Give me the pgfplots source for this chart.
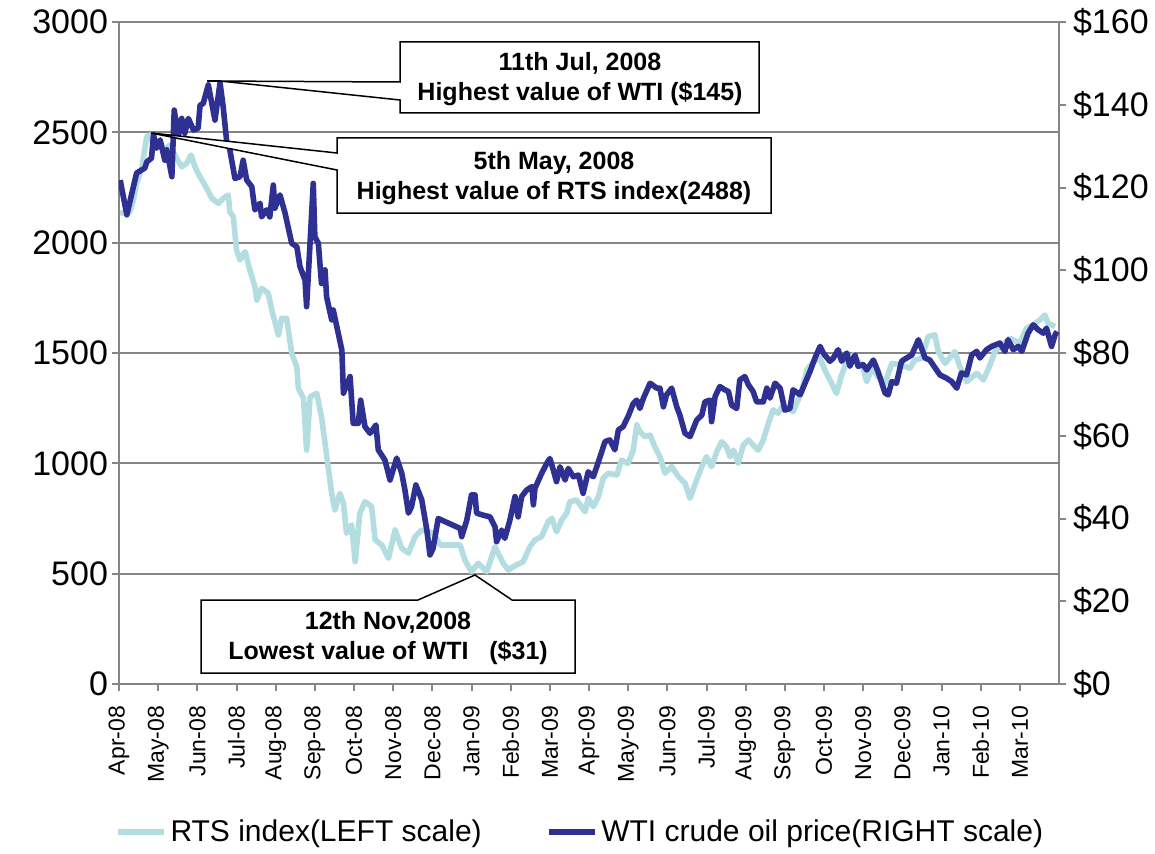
\documentclass[border=0pt]{standalone}
\usepackage{fontspec}
\setmainfont{Liberation Sans}
\usepackage{pgfplots}
\usepackage{pgfplotstable}
\pgfplotsset{compat=1.18}

\definecolor{rtscol}{RGB}{180,221,225}
\definecolor{wticol}{RGB}{46,49,146}
\definecolor{gridcol}{RGB}{134,134,134}

% x = months since 1 Apr 2008
\pgfplotstableread{
m v
0.03 2133
0.28 2140
0.37 2194
0.45 2269
0.58 2337
0.71 2480
0.79 2488
0.92 2428
1.05 2450
1.17 2420
1.30 2443
1.47 2382
1.60 2344
1.73 2360
1.84 2397
1.94 2344
2.02 2314
2.24 2246
2.37 2201
2.54 2178
2.66 2201
2.79 2216
2.83 2140
2.92 2117
3.00 1967
3.09 1922
3.22 1959
3.34 1876
3.47 1801
3.52 1740
3.64 1793
3.81 1771
3.90 1695
4.07 1582
4.15 1657
4.28 1657
4.41 1499
4.54 1438
4.58 1340
4.71 1295
4.79 1060
4.88 1302
5.05 1317
5.17 1211
5.43 864
5.51 789
5.64 864
5.73 819
5.81 683
5.94 721
6.03 554
6.15 774
6.28 826
6.45 804
6.54 653
6.71 630
6.88 570
7.05 698
7.22 615
7.39 593
7.56 668
7.73 698
8.02 683
8.20 630
8.71 630
8.83 562
9.00 509
9.17 547
9.39 509
9.60 622
9.81 547
9.94 517
10.07 532
10.32 554
10.49 622
10.62 653
10.79 668
10.96 736
11.05 751
11.17 690
11.30 743
11.43 774
11.51 826
11.68 834
11.90 781
11.98 842
12.11 804
12.24 849
12.36 932
12.49 955
12.71 947
12.83 1015
13.00 1000
13.13 1060
13.22 1174
13.30 1143
13.43 1121
13.56 1128
13.68 1075
13.81 1030
13.94 955
14.11 985
14.28 940
14.45 910
14.58 842
14.75 925
14.88 985
15.00 1030
15.13 985
15.26 1053
15.39 1098
15.51 1075
15.60 1030
15.69 1060
15.81 1000
15.94 1083
16.07 1106
16.19 1083
16.32 1060
16.45 1106
16.58 1181
16.70 1242
16.83 1227
16.96 1264
17.21 1234
17.43 1325
17.56 1423
17.73 1461
17.90 1476
18.02 1423
18.15 1378
18.32 1317
18.45 1400
18.58 1461
18.75 1491
19.00 1431
19.09 1370
19.22 1431
19.38 1393
19.56 1363
19.73 1453
19.98 1446
20.19 1431
20.32 1468
20.49 1476
20.66 1574
20.83 1582
20.92 1506
21.09 1453
21.34 1506
21.47 1438
21.64 1370
21.90 1408
22.07 1378
22.24 1446
22.36 1506
22.75 1567
23.00 1544
23.17 1612
23.34 1627
23.51 1650
23.64 1672
23.72 1635
23.90 1620
}\rts

\pgfplotstableread{
m v
0.03 121.8
0.20 113.4
0.45 123.5
0.66 124.7
0.71 126.2
0.83 127.1
0.88 132.7
0.96 129.5
1.05 131.5
1.17 126.6
1.22 129.1
1.35 122.6
1.41 138.7
1.51 132.3
1.60 136.7
1.68 133.1
1.77 136.7
1.90 133.9
2.02 134.3
2.07 139.9
2.15 140.3
2.28 144.8
2.45 136.3
2.58 145.3
2.66 139.5
2.75 131.1
2.83 129.1
2.96 122.2
3.09 122.6
3.17 126.6
3.26 121.8
3.39 120.2
3.47 114.6
3.60 116.2
3.64 112.9
3.77 114.6
3.85 112.9
3.94 120.6
3.98 115.0
4.11 118.2
4.24 113.8
4.41 106.5
4.54 105.7
4.62 100.9
4.75 97.6
4.79 91.2
4.96 121.0
5.00 108.1
5.09 106.5
5.17 96.8
5.26 100.1
5.30 93.6
5.43 88.0
5.47 90.4
5.69 80.7
5.73 70.3
5.90 74.3
5.98 63.0
6.11 63.0
6.17 68.6
6.28 62.2
6.41 60.6
6.56 62.6
6.62 56.6
6.79 54.1
6.92 49.3
7.09 54.6
7.22 50.9
7.30 46.9
7.39 41.3
7.47 42.9
7.58 48.1
7.73 44.5
7.86 37.2
7.94 31.2
8.02 32.8
8.15 40.0
8.71 37.6
8.75 35.6
8.88 39.6
9.00 45.7
9.09 45.7
9.13 41.3
9.30 40.8
9.47 40.4
9.60 38.0
9.64 34.4
9.77 37.2
9.85 35.2
9.98 39.6
10.11 45.3
10.19 40.4
10.28 45.3
10.41 46.9
10.54 47.7
10.58 43.3
10.62 47.3
10.79 50.9
10.92 53.3
11.00 54.5
11.09 51.7
11.17 48.9
11.26 52.5
11.39 49.3
11.47 52.1
11.60 50.1
11.73 50.5
11.85 46.1
11.98 51.3
12.11 50.1
12.24 53.7
12.41 58.6
12.53 59.0
12.66 56.6
12.75 61.4
12.87 62.2
13.00 64.7
13.13 67.8
13.22 68.6
13.30 66.6
13.39 69.1
13.56 72.7
13.73 71.5
13.81 71.5
13.90 67.0
13.98 69.9
14.11 71.5
14.24 67.0
14.32 65.0
14.45 60.6
14.58 59.8
14.75 63.8
14.88 65.0
14.96 68.2
15.09 68.6
15.13 63.4
15.22 69.5
15.34 71.9
15.47 71.1
15.56 70.7
15.64 67.4
15.77 66.6
15.85 73.5
15.98 74.3
16.07 72.3
16.19 70.7
16.28 68.2
16.45 68.2
16.54 71.5
16.62 69.1
16.75 72.7
16.88 71.5
17.00 66.2
17.13 66.6
17.21 71.1
17.39 69.9
17.64 75.5
17.77 78.8
17.90 81.6
17.98 80.0
18.15 78.0
18.24 78.8
18.36 80.8
18.45 78.0
18.58 80.0
18.66 76.8
18.79 79.5
18.87 76.8
19.00 77.2
19.09 75.9
19.26 78.3
19.38 75.5
19.56 70.3
19.64 69.9
19.73 73.1
19.85 72.7
19.98 78.0
20.11 78.8
20.24 79.5
20.41 83.2
20.58 78.8
20.70 78.3
20.96 74.7
21.13 73.9
21.26 73.1
21.39 71.5
21.51 75.2
21.64 74.7
21.77 79.5
21.90 80.4
21.98 78.8
22.15 80.8
22.28 81.6
22.49 82.4
22.62 80.4
22.70 83.2
22.83 80.8
22.96 81.6
23.05 80.4
23.21 84.8
23.34 86.8
23.47 85.6
23.60 84.8
23.68 86.0
23.81 81.6
23.90 84.4
23.95 85.2
}\wti

\pgfplotsset{
  base/.style={
    at={(0,0)}, anchor=south west,
    scale only axis, width=470pt, height=331pt,
    xmin=0, xmax=24,
    axis line style={gridcol, line width=1pt, -},
    tick style={gridcol, line width=1pt},
    tick align=outside, major tick length=3.5pt,
    /pgf/number format/assume math mode=true,
    /pgf/number format/1000 sep={},
    yticklabel style={font=\fontsize{17}{19}\selectfont},
  },
}

\begin{document}
\begin{tikzpicture}
\begin{axis}[base,
  ymin=0, ymax=3000,
  axis y line*=left, axis x line*=bottom,
  ytick={0,500,...,3000},
  yticklabel shift=-1.5pt,
  xtick={0,...,23},
  xticklabels={Apr-08,May-08,Jun-08,Jul-08,Aug-08,Sep-08,Oct-08,Nov-08,Dec-08,Jan-09,Feb-09,Mar-09,Apr-09,May-09,Jun-09,Jul-09,Aug-09,Sep-09,Oct-09,Nov-09,Dec-09,Jan-10,Feb-10,Mar-10},
  xticklabel style={rotate=90, anchor=east, font=\fontsize{11.5}{13}\selectfont},
  xticklabel shift=4pt,
  ymajorgrids, grid style={gridcol, line width=1pt},
]
\addplot[rtscol, line width=2.8pt, line join=round] table[x=m, y=v] {\rts};
\end{axis}

\begin{axis}[base,
  ymin=0, ymax=160,
  axis y line*=right, axis x line=none,
  ytick={0,20,...,160},
  yticklabel={\$\pgfmathprintnumber{\tick}},
  legend columns=2,
  legend style={at={(0.4915,-0.2236)}, anchor=center, draw=none, fill=none,
    font=\fontsize{15}{17}\selectfont,
    /tikz/every even column/.append style={column sep=30pt}},
  legend image code/.code={\draw[#1] (0pt,0pt) -- (23pt,0pt);},
]
\addlegendimage{rtscol, line width=2.8pt}
\addlegendentry{RTS index(LEFT scale)}
\addplot[wticol, line width=2.8pt, line join=round] table[x=m, y=v] {\wti};
\addlegendentry{WTI crude oil price(RIGHT scale)}
\end{axis}

% callouts, positions in reference pixels
\begin{scope}[x=0.5pt, y=-0.5pt, shift={(-59.5pt,342pt)}, line width=0.75pt]
\draw[fill=white] (400,42) -- (759,42) -- (759,113) -- (400,113) -- (400,100)
  -- (220,81) -- (207,81) -- (400,82) -- cycle;
\node[font=\bfseries\fontsize{12.5}{15}\selectfont, align=center] at (580,79)
  {11th Jul, 2008\\Highest value of WTI (\$145)};
\draw[fill=white] (337,138) -- (771,138) -- (771,213) -- (337,213) -- (337,170)
  -- (151,133) -- (337,153) -- cycle;
\node[font=\bfseries\fontsize{12.5}{15}\selectfont, align=center] at (554,178)
  {5th May, 2008\\Highest value of RTS index(2488)};
\draw[fill=white] (201,600) -- (418,600) -- (475,575) -- (512,600) -- (575,600)
  -- (575,673) -- (201,673) -- cycle;
\node[font=\bfseries\fontsize{12.5}{15}\selectfont, align=center] at (388,638)
  {12th Nov,2008\\Lowest value of WTI\ \ \ (\$31)};
\end{scope}

\pgfresetboundingbox
\path[use as bounding box] (-59.5pt,-84.5pt) rectangle (518pt,342pt);
\end{tikzpicture}
\end{document}
